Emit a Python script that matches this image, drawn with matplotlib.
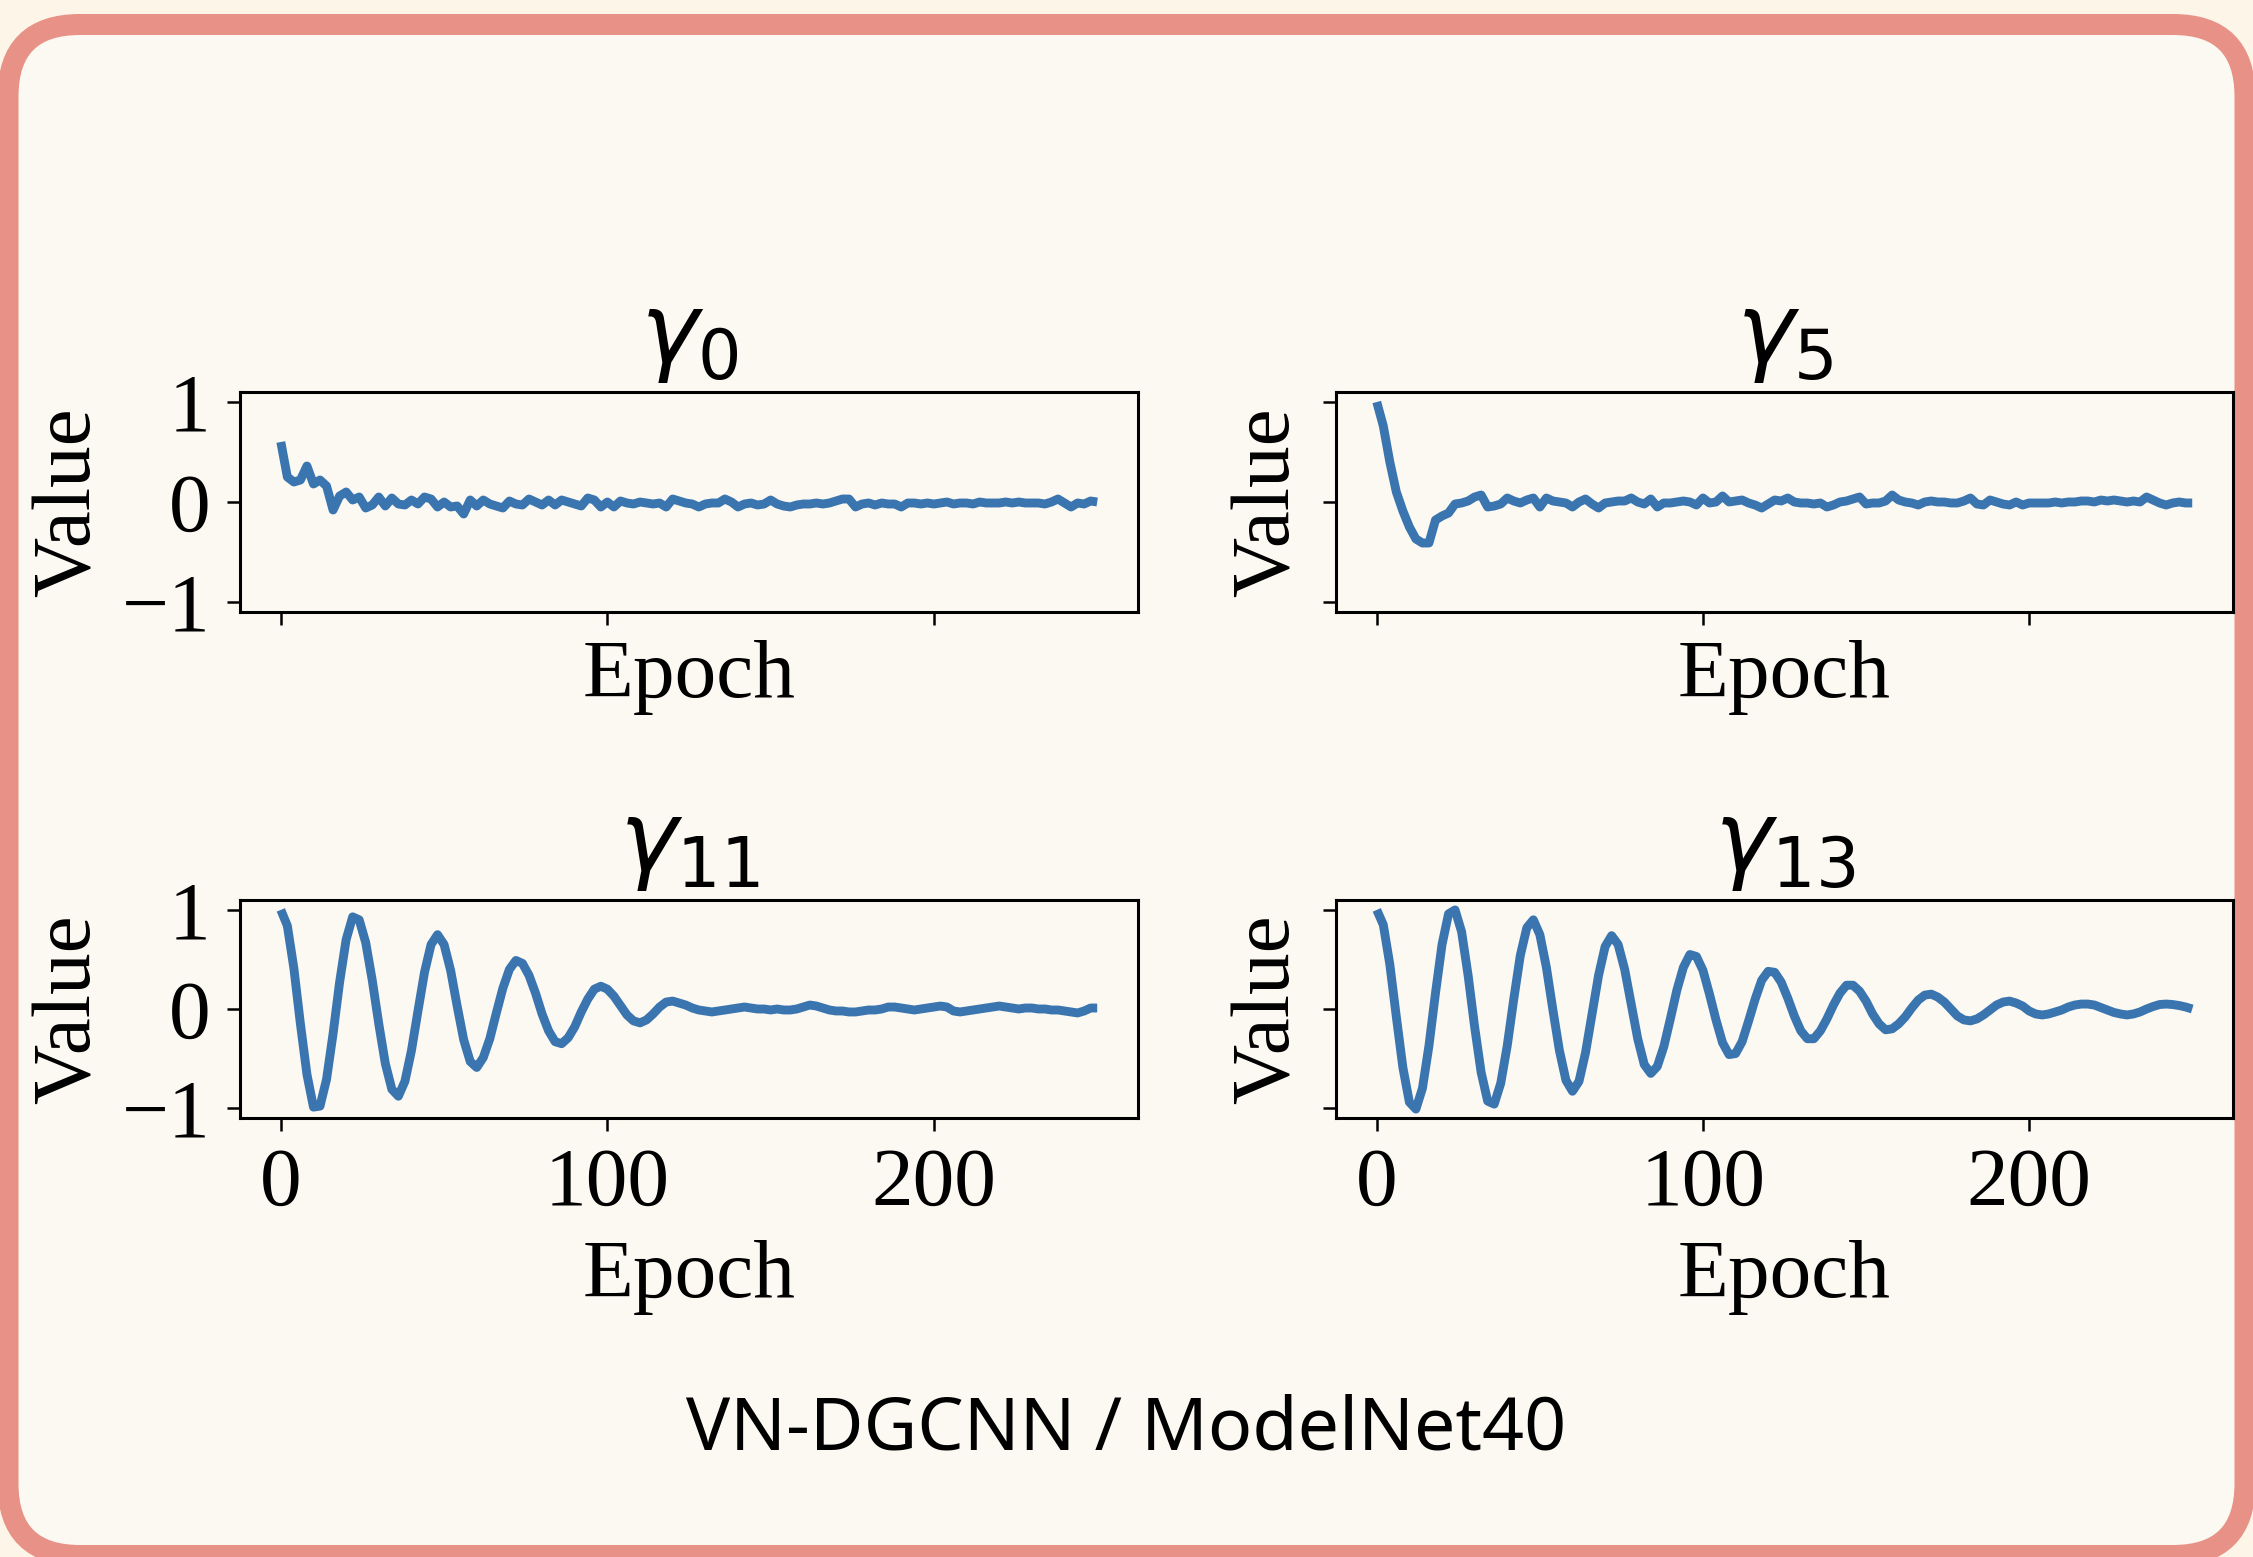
import numpy as np
import matplotlib
matplotlib.use('Agg')
import matplotlib.pyplot as plt
from matplotlib.patches import FancyBboxPatch
from matplotlib.transforms import IdentityTransform

W, H, DPI = 2253, 1557, 100

# ---------------- data ----------------
epochs = np.arange(0, 251, 2)

gamma_0 = [
    0.60, 0.25, 0.20, 0.22, 0.36, 0.18, 0.22, 0.16, -0.08, 0.06,
    0.10, 0.02, 0.05, -0.06, -0.03, 0.05, -0.04, 0.04, -0.02, -0.03,
    0.02, -0.02, 0.05, 0.03, -0.05, 0.00, -0.05, -0.04, -0.12, 0.02,
    -0.04, 0.02, -0.02, -0.04, -0.06, 0.01, -0.02, -0.03, 0.03, 0.00,
    -0.03, 0.02, -0.03, 0.02, 0.00, -0.02, -0.04, 0.04, 0.02, -0.05,
    0.00, -0.05, 0.01, -0.01, -0.02, 0.00, -0.01, -0.02, -0.01, -0.05,
    0.03, 0.01, -0.01, -0.02, -0.05, -0.02, -0.01, -0.01, 0.03, 0.00,
    -0.05, -0.02, -0.01, -0.03, -0.02, 0.02, -0.02, -0.04, -0.05, -0.03,
    -0.02, -0.02, -0.01, -0.02, -0.01, 0.01, 0.03, 0.03, -0.05, -0.02,
    -0.01, -0.03, -0.01, -0.02, -0.02, -0.05, -0.01, -0.01, -0.02, -0.01,
    -0.02, -0.01, 0.00, -0.02, -0.01, -0.01, -0.02, 0.00, -0.01, -0.01,
    -0.01, 0.00, -0.01, 0.00, -0.01, -0.01, -0.01, -0.02, 0.00, 0.03,
    -0.01, -0.05, -0.01, -0.02, 0.01, 0.00,
]

gamma_5 = [
    1.00, 0.76, 0.40, 0.10, -0.09, -0.25, -0.37, -0.41, -0.41, -0.18,
    -0.14, -0.11, -0.02, -0.01, 0.01, 0.05, 0.07, -0.05, -0.04, -0.02,
    0.04, 0.01, -0.01, 0.02, 0.04, -0.05, 0.04, 0.01, 0.00, -0.01,
    -0.05, 0.00, 0.03, -0.02, -0.06, -0.01, 0.00, 0.01, 0.01, 0.04,
    0.00, -0.02, 0.03, -0.05, -0.01, -0.01, 0.00, 0.01, 0.00, -0.03,
    0.04, -0.01, 0.00, 0.06, 0.00, 0.01, 0.02, -0.01, -0.03, -0.06,
    -0.02, 0.02, 0.01, 0.04, 0.00, -0.01, -0.01, -0.02, -0.01, -0.05,
    -0.03, 0.00, 0.01, 0.03, 0.05, -0.02, -0.01, -0.01, 0.01, 0.07,
    0.02, 0.00, -0.01, -0.03, 0.00, 0.01, 0.00, 0.00, -0.01, -0.01,
    0.01, 0.04, -0.02, -0.03, 0.02, 0.00, -0.02, -0.03, 0.00, -0.03,
    -0.01, -0.01, -0.01, -0.01, 0.00, -0.01, 0.00, 0.00, 0.01, 0.01,
    0.00, 0.02, 0.01, 0.02, 0.01, 0.00, 0.01, 0.00, 0.05, 0.02,
    -0.01, -0.03, -0.01, 0.00, -0.01, -0.01,
]

gamma_11 = [
    1.00, 0.84, 0.41, -0.15, -0.66, -0.99, -0.98, -0.71, -0.25, 0.27,
    0.70, 0.93, 0.90, 0.67, 0.29, -0.15, -0.55, -0.81, -0.88, -0.73,
    -0.42, -0.02, 0.37, 0.65, 0.75, 0.65, 0.39, 0.03, -0.31, -0.53,
    -0.59, -0.49, -0.30, -0.04, 0.21, 0.40, 0.49, 0.46, 0.34, 0.16,
    -0.05, -0.22, -0.33, -0.35, -0.29, -0.18, -0.03, 0.10, 0.20, 0.23,
    0.20, 0.13, 0.035, -0.06, -0.12, -0.14, -0.11, -0.05, 0.02, 0.07,
    0.08, 0.06, 0.04, 0.01, -0.01, -0.02, -0.03, -0.02, -0.01, 0.00,
    0.01, 0.02, 0.01, 0.00, 0.00, -0.01, 0.00, -0.01, -0.01, 0.00,
    0.02, 0.04, 0.03, 0.01, -0.01, -0.02, -0.02, -0.03, -0.03, -0.02,
    -0.01, -0.01, 0.00, 0.02, 0.02, 0.01, 0.00, -0.01, 0.00, 0.01,
    0.02, 0.03, 0.02, -0.02, -0.03, -0.02, -0.01, 0.00, 0.01, 0.02,
    0.03, 0.02, 0.01, 0.00, 0.01, 0.01, 0.00, 0.00, -0.01, -0.01,
    -0.02, -0.03, -0.04, -0.02, 0.01, 0.01,
]

gamma_13 = [
    1.00, 0.85, 0.45, -0.08, -0.59, -0.94, -1.01, -0.80, -0.37, 0.16,
    0.65, 0.96, 1.00, 0.78, 0.34, -0.18, -0.64, -0.93, -0.96, -0.75,
    -0.37, 0.10, 0.54, 0.82, 0.90, 0.75, 0.42, -0.01, -0.42, -0.72,
    -0.83, -0.73, -0.44, -0.05, 0.34, 0.63, 0.74, 0.65, 0.40, 0.05,
    -0.30, -0.56, -0.65, -0.58, -0.38, -0.10, 0.19, 0.42, 0.55, 0.53,
    0.39, 0.15, -0.11, -0.34, -0.46, -0.45, -0.33, -0.12, 0.10, 0.29,
    0.38, 0.37, 0.27, 0.11, -0.07, -0.22, -0.30, -0.30, -0.22, -0.10,
    0.04, 0.16, 0.24, 0.24, 0.18, 0.08, -0.05, -0.15, -0.21, -0.20,
    -0.15, -0.08, 0.01, 0.09, 0.14, 0.15, 0.12, 0.07, 0.00, -0.07,
    -0.11, -0.12, -0.10, -0.06, -0.01, 0.04, 0.07, 0.08, 0.06, 0.03,
    -0.02, -0.05, -0.06, -0.05, -0.03, -0.01, 0.02, 0.04, 0.05, 0.05,
    0.04, 0.015, -0.01, -0.035, -0.05, -0.06, -0.05, -0.03, 0.00, 0.025,
    0.045, 0.05, 0.045, 0.035, 0.02, 0.00,
]

titles = [r'$\gamma_{0}$', r'$\gamma_{5}$', r'$\gamma_{11}$', r'$\gamma_{13}$']
series = [gamma_0, gamma_5, gamma_11, gamma_13]
x_ticks = [0, 100, 200]
y_ticks = [-1, 0, 1]
x_label = 'Epoch'
y_label = 'Value'
caption = 'VN-DGCNN / ModelNet40'

# ---------------- style ----------------
plt.rcParams['font.family'] = ['Liberation Serif', 'DejaVu Serif']
plt.rcParams['mathtext.fontset'] = 'dejavusans'
plt.rcParams['axes.unicode_minus'] = True

LINE_COLOR = '#3A75B0'
OUTER_BG = '#FDF5E8'
CARD_BG = '#FCF9F2'
BORDER = '#E89187'

fig = plt.figure(figsize=(W / DPI, H / DPI), dpi=DPI)
fig.patch.set_facecolor(OUTER_BG)

# rounded card (pixel coordinates, origin bottom-left)
card = FancyBboxPatch((8, H - 1555.5), 2245 - 8, 1555.5 - 24.5,
                      boxstyle='round,pad=0,rounding_size=72',
                      transform=IdentityTransform(),
                      facecolor=CARD_BG, edgecolor=BORDER, linewidth=21 * 72 / DPI,
                      zorder=0)
fig.add_artist(card)


def rect(l, r, t, b):
    return [l / W, 1 - b / H, (r - l) / W, (b - t) / H]


boxes = [(240, 1138, 392, 612), (1336, 2233, 392, 612),
         (240, 1138, 900, 1118), (1336, 2233, 900, 1118)]

FS = 60
for i, (box, vals, title) in enumerate(zip(boxes, series, titles)):
    l, r, t, b = box
    ax = fig.add_axes(rect(l, r, t, b))
    ax.set_facecolor('none')
    ax.plot(epochs, vals, color=LINE_COLOR, lw=6.4, solid_joinstyle='round',
            solid_capstyle='butt')
    ax.set_ylim(-1.1, 1.1)
    ax.set_xticks(x_ticks)
    ax.set_yticks(y_ticks)
    ax.tick_params(direction='out', length=9.4, width=1.8, labelsize=FS, pad=12,
                   color='black')
    for s in ax.spines.values():
        s.set_linewidth(2.2)
    row, col = divmod(i, 2)
    if row == 0:
        ax.tick_params(labelbottom=False)
    if col == 1:
        ax.tick_params(labelleft=False)
    # title
    ax.text(0.5, 1 + 7 / (b - t), title, transform=ax.transAxes,
            ha='center', va='bottom', fontsize=70.5)
    # y label
    ylx = 70 if col == 0 else 1269
    fig.text(ylx / W, 1 - ((t + b) / 2) / H, y_label, rotation=90,
             ha='center', va='center', fontsize=FS)
    # x label
    base = 697 if row == 0 else 1297
    fig.text(((l + r) / 2) / W, 1 - base / H, x_label,
             ha='center', va='baseline', fontsize=FS)

fig.text(0.5, 1 - 1449 / H, caption, family=['Noto Sans', 'DejaVu Sans'],
         fontsize=53, ha='center', va='baseline', color='black')

fig.savefig('out.png', dpi=DPI, facecolor=fig.get_facecolor())
